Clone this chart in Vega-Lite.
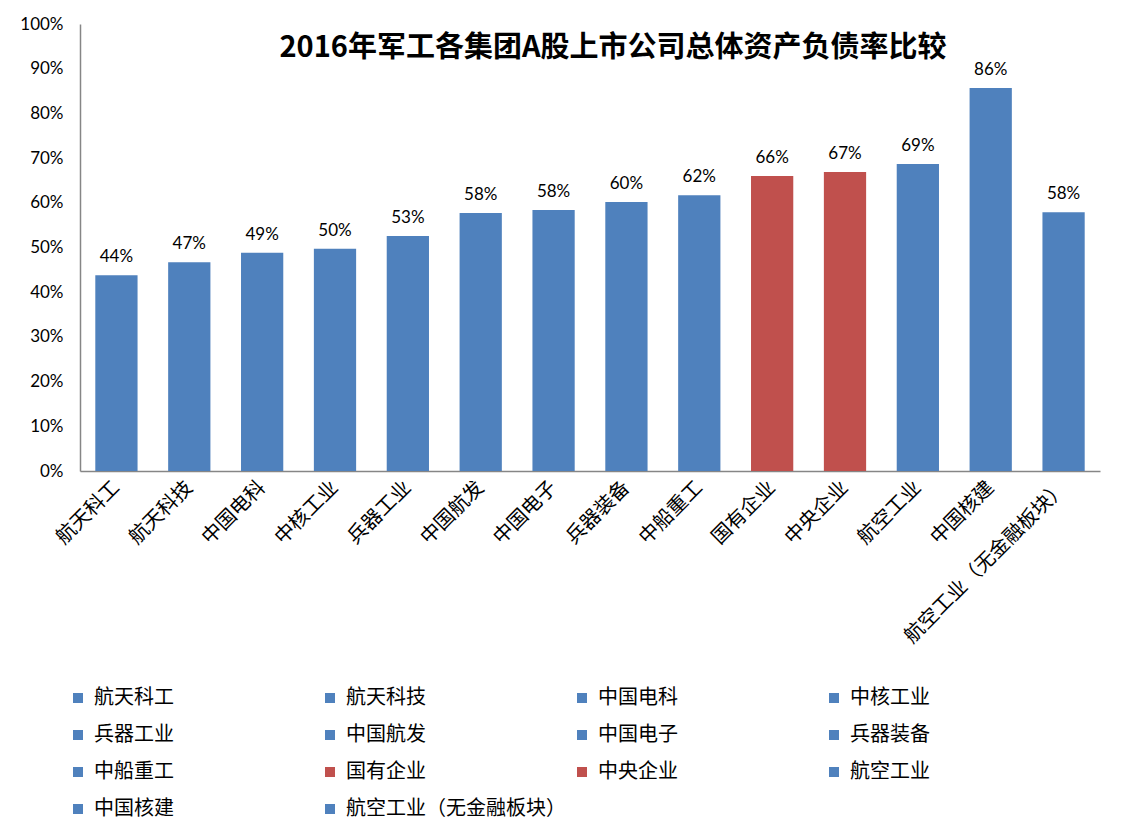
{
  "$schema": "https://vega.github.io/schema/vega-lite/v6.json",
  "width": 1020,
  "height": 447,
  "autosize": {"type": "none"},
  "padding": {"left": 80, "top": 24, "right": 37, "bottom": 369},
  "background": "white",
  "title": {
    "text": "2016年军工各集团A股上市公司总体资产负债率比较",
    "font": "Noto Sans CJK SC",
    "fontSize": 29,
    "fontWeight": "bold",
    "color": "#000000",
    "anchor": "middle",
    "dx": 23,
    "dy": 48,
    "offset": 0
  },
  "config": {"view": {"stroke": null}},
  "data": {
    "values": [
      {"name": "航天科工", "value": 0.438},
      {"name": "航天科技", "value": 0.467},
      {"name": "中国电科", "value": 0.488},
      {"name": "中核工业", "value": 0.497},
      {"name": "兵器工业", "value": 0.526},
      {"name": "中国航发", "value": 0.577},
      {"name": "中国电子", "value": 0.584},
      {"name": "兵器装备", "value": 0.602},
      {"name": "中船重工", "value": 0.617},
      {"name": "国有企业", "value": 0.66},
      {"name": "中央企业", "value": 0.669},
      {"name": "航空工业", "value": 0.687},
      {"name": "中国核建", "value": 0.857},
      {"name": "航空工业（无金融板块）", "value": 0.579}
    ]
  },
  "encoding": {
    "x": {
      "field": "name",
      "type": "nominal",
      "sort": null,
      "scale": {"paddingInner": 0.42, "paddingOuter": 0.21},
      "axis": {
        "title": null,
        "labelAngle": -45,
        "labelAlign": "right",
        "labelBaseline": "middle",
        "ticks": false,
        "domainColor": "#868686",
        "domainWidth": 1.5,
        "labelFont": "Noto Sans CJK SC",
        "labelFontSize": 20,
        "labelColor": "#000000",
        "labelPadding": 13,
        "labelLimit": 400
      }
    },
    "y": {
      "field": "value",
      "type": "quantitative",
      "scale": {"domain": [0, 1]},
      "axis": {
        "title": null,
        "format": ".0%",
        "values": [0, 0.1, 0.2, 0.3, 0.4, 0.5, 0.6, 0.7, 0.8, 0.9, 1],
        "grid": false,
        "ticks": false,
        "domainColor": "#868686",
        "domainWidth": 1.5,
        "labelFont": "Lato",
        "labelFontSize": 17,
        "labelColor": "#000000",
        "labelPadding": 17
      }
    }
  },
  "layer": [
    {
      "mark": {"type": "bar"},
      "encoding": {
        "color": {
          "field": "name",
          "type": "nominal",
          "scale": {
            "domain": ["航天科工", "航天科技", "中国电科", "中核工业", "兵器工业", "中国航发", "中国电子", "兵器装备", "中船重工", "国有企业", "中央企业", "航空工业", "中国核建", "航空工业（无金融板块）"],
            "range": ["#4F81BD", "#4F81BD", "#4F81BD", "#4F81BD", "#4F81BD", "#4F81BD", "#4F81BD", "#4F81BD", "#4F81BD", "#C0504D", "#C0504D", "#4F81BD", "#4F81BD", "#4F81BD"]
          },
          "legend": {
            "title": null,
            "orient": "none",
            "direction": "horizontal",
            "legendX": -12,
            "legendY": 664,
            "columns": 4,
            "gridAlign": "all",
            "symbolType": "square",
            "symbolSize": 100,
            "symbolStrokeWidth": 0,
            "labelFont": "Noto Sans CJK SC",
            "labelFontSize": 20,
            "labelColor": "#000000",
            "labelOffset": 6,
            "labelLimit": 400,
            "columnPadding": 6,
            "rowPadding": 17
          }
        }
      }
    },
    {
      "mark": {"type": "text", "baseline": "bottom", "dy": -9, "font": "Lato", "fontSize": 17, "color": "#000000"},
      "encoding": {
        "text": {"field": "value", "type": "quantitative", "format": ".0%"}
      }
    }
  ]
}
